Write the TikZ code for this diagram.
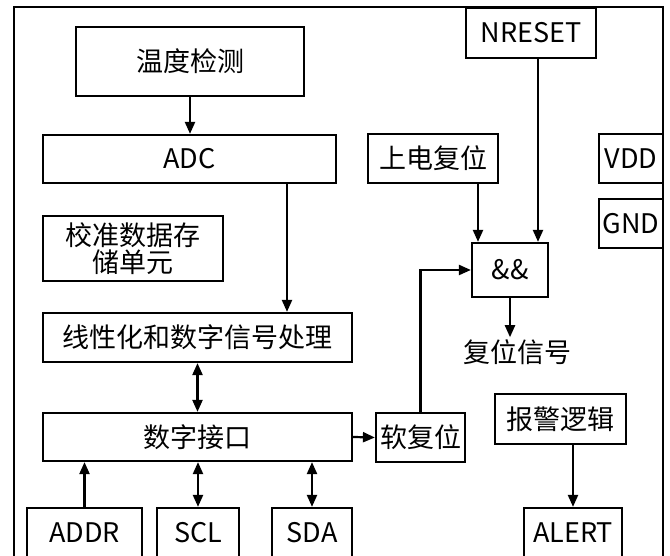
\documentclass[tikz,border=0pt]{standalone}
\usepackage{fontspec}
\setmainfont{Noto Sans CJK SC}
\usepackage{tikz}
\usetikzlibrary{arrows.meta, positioning, calc}

\tikzstyle{block} = [rectangle, draw=black, line width=2.2pt, inner sep=0pt, text centered, font=\fontsize{27pt}{27pt}\selectfont]
\tikzstyle{pin} = [block, minimum height=50pt]
\tikzstyle{label} = [inner sep=2pt, font=\fontsize{27pt}{27pt}\selectfont]
\tikzstyle{arrow} = [line width=2.2pt, -{Triangle[length=12pt,width=10pt]}]
\tikzstyle{biarrow} = [line width=2.2pt, {Triangle[length=12pt,width=10pt]}-{Triangle[length=12pt,width=10pt]}]

\begin{document}
\begin{tikzpicture}[x=1pt, y=1pt]
\useasboundingbox (0,0) rectangle (670,556);
\clip (0,0) rectangle (670,556);

% Chip boundary
\draw[line width=2.2pt] (14,-5) -- (14,549) -- (663,549) -- (663,-5);

% Sensor chain
\node[block, minimum width=228pt, minimum height=69pt] (temp) at (190,494.5) {温度检测};
\node[block, minimum width=293pt, minimum height=48pt] (adc) at (189.5,397) {ADC};
\node[block, minimum width=180pt, minimum height=65pt, align=center] (calib) at (133,307.5) {校准数据存\\储单元};
\node[block, minimum width=309pt, minimum height=49pt] (linear) at (197.5,218.5) {线性化和数字信号处理};
\node[block, minimum width=309pt, minimum height=48pt] (iface) at (197.5,119) {数字接口};

% Reset logic
\node[block, minimum width=130pt, minimum height=50pt] (nreset) at (531,523) {NRESET};
\node[block, minimum width=130pt, minimum height=49pt] (por) at (433,397.5) {上电复位};
\node[block, minimum width=76pt, minimum height=54pt] (andg) at (510,286) {\&\&};
\node[label] (rstsig) at (517,204) {复位信号};
\node[block, minimum width=89pt, minimum height=49pt] (soft) at (420.5,118.5) {软复位};

% Supply pins
\node[block, minimum width=64pt, minimum height=49pt] (vdd) at (631,397.5) {VDD};
\node[block, minimum width=64pt, minimum height=49pt] (gnd) at (631,332.5) {GND};

% Alarm
\node[block, minimum width=131pt, minimum height=50pt] (alarm) at (560.5,137) {报警逻辑};

% Bottom pins
\node[pin, minimum width=115pt] (addr) at (84.5,23) {ADDR};
\node[pin, minimum width=82pt] (scl) at (198,23) {SCL};
\node[pin, minimum width=80pt] (sda) at (312,23) {SDA};
\node[pin, minimum width=98pt] (alert) at (573,23) {ALERT};

% Data path
\draw[arrow] (temp.south) -- (temp.south |- adc.north);
\draw[arrow] ([xshift=97.5pt]adc.south) -- ([xshift=97.5pt]adc.south |- linear.north);
\draw[biarrow] (linear.south) -- (iface.north);
\draw[arrow] (iface.east) -- (soft.west);
\draw[arrow] (addr.north) -- (addr.north |- iface.south);
\draw[biarrow] (scl.north) -- (scl.north |- iface.south);
\draw[biarrow] (sda.north) -- (sda.north |- iface.south);

% Reset path
\draw[arrow] (soft.north) |- (andg.west);
\draw[arrow] ([xshift=45pt]por.south) -- ([xshift=45pt]por.south |- andg.north);
\draw[arrow] ([xshift=7pt]nreset.south) -- ([xshift=7pt]nreset.south |- andg.north);
\draw[arrow] (andg.south) -- (andg.south |- rstsig.north);

% Alarm output
\draw[arrow] (alert.north |- alarm.south) -- (alert.north);

\end{tikzpicture}
\end{document}
